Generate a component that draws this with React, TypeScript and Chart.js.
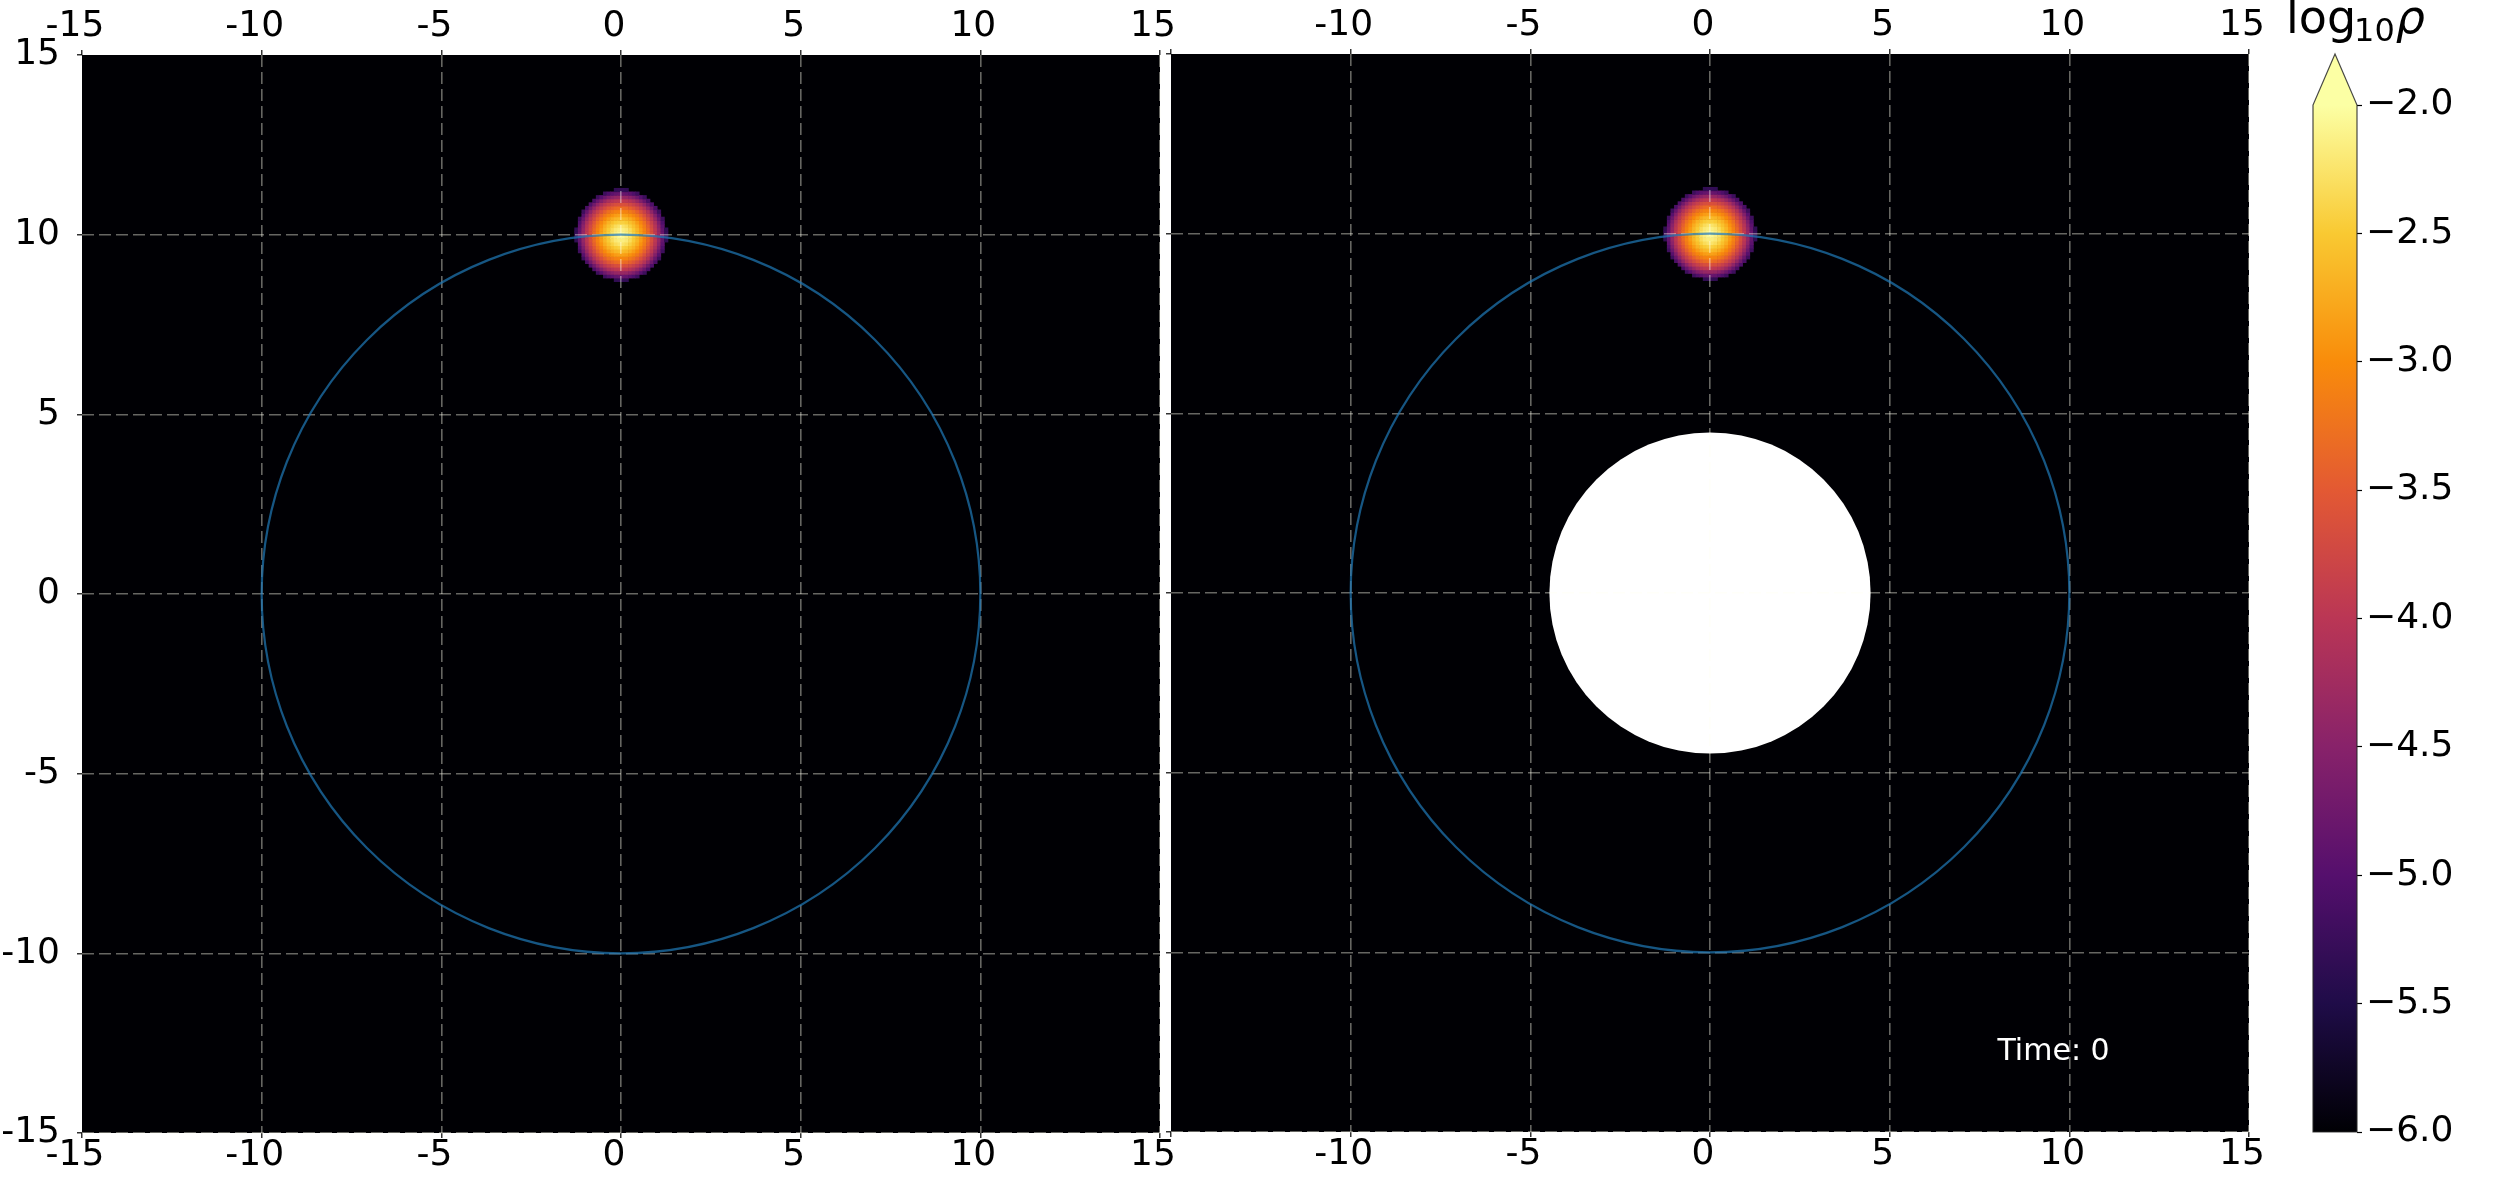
import React, { useEffect, useRef } from "react";
import { Chart, registerables } from "chart.js";

Chart.register(...registerables);

// ---------------- data ----------------
const AXIS_MIN = -15;
const AXIS_MAX = 15;
const TICK_STEP = 5;
const X_TICK_VALUES = [-15, -10, -5, 0, 5, 10, 15];
const LEFT_X_TICK_LABELS = ["-15", "-10", "-5", "0", "5", "10", "15"];
const RIGHT_X_TICK_LABELS = ["", "-10", "-5", "0", "5", "10", "15"];
const Y_TICK_VALUES = [-15, -10, -5, 0, 5, 10, 15];
const Y_TICK_LABELS = ["-15", "-10", "-5", "0", "5", "10", "15"];

const CBAR_MIN = -6;
const CBAR_MAX = -2;
const CBAR_STEP = 0.5;
const CBAR_TICK_VALUES = [-6, -5.5, -5, -4.5, -4, -3.5, -3, -2.5, -2];
const CBAR_TICK_LABELS = ["−6.0", "−5.5", "−5.0", "−4.5", "−4.0", "−3.5", "−3.0", "−2.5", "−2.0"];

// density blob: radial profile of log10(rho) around the centre
const BLOB_CENTER_X = 0;
const BLOB_CENTER_Y = 10;
const BLOB_RADII = [0, 0.25, 0.5, 0.75, 1.0, 1.15, 1.27];
const BLOB_LOG_RHO = [-2.0, -2.25, -2.7, -3.3, -4.1, -4.8, -5.4];
const CELL_SIZE = 0.1;

const ORBIT_RADIUS = 10;
const HOLE_RADIUS = 4.47;
const TIME_TEXT = "Time: 0";
const TIME_X = 8;
const TIME_Y = -13;

// ---------------- styles ----------------
const W = 2500;
const H = 1180;
const FONT = "DejaVu Sans";
const BG = "#000004";
const GRID_COLOR = "rgba(255,255,240,0.4)";
const ORBIT_COLOR = "rgba(31,119,180,0.72)";
const INFERNO = ["#000004", "#1f0c48", "#550f6d", "#88226a", "#ba3655", "#e35933", "#f98c0a", "#f9c932", "#fcffa4"];

const LEFT_AREA = { left: 82, right: 1160, top: 55, bottom: 1133 };
const RIGHT_AREA = { left: 1171, right: 2249, top: 54, bottom: 1132 };
const CBAR_AREA = { left: 2313, right: 2357, top: 105, bottom: 1132 };

function hexToRgb(h: string) {
  return [parseInt(h.slice(1, 3), 16), parseInt(h.slice(3, 5), 16), parseInt(h.slice(5, 7), 16)];
}
const INFERNO_RGB = INFERNO.map(hexToRgb);

function inferno(t: number) {
  const c = Math.max(0, Math.min(1, t)) * (INFERNO_RGB.length - 1);
  const i = Math.min(INFERNO_RGB.length - 2, Math.floor(c));
  const f = c - i;
  const a = INFERNO_RGB[i];
  const b = INFERNO_RGB[i + 1];
  const r = Math.round(a[0] + (b[0] - a[0]) * f);
  const g = Math.round(a[1] + (b[1] - a[1]) * f);
  const bl = Math.round(a[2] + (b[2] - a[2]) * f);
  return `rgb(${r},${g},${bl})`;
}

function profileAt(r: number) {
  for (let i = 0; i < BLOB_RADII.length - 1; i++) {
    if (r <= BLOB_RADII[i + 1]) {
      const f = (r - BLOB_RADII[i]) / (BLOB_RADII[i + 1] - BLOB_RADII[i]);
      return BLOB_LOG_RHO[i] + (BLOB_LOG_RHO[i + 1] - BLOB_LOG_RHO[i]) * f;
    }
  }
  return null;
}

function labelFor(values: number[], labels: string[]) {
  return (v: any) => {
    const idx = values.findIndex((t) => Math.abs(t - Number(v)) < 1e-9);
    return idx >= 0 ? labels[idx] : "";
  };
}

type PanelOpts = {
  id: string;
  area: { left: number; right: number; top: number; bottom: number };
  xLabels: string[];
  showYLabels: boolean;
  yAxisWidth: number;
  hole: boolean;
  time: boolean;
};

function panelPlugin(o: PanelOpts) {
  return {
    id: o.id,
    beforeDraw(chart: any) {
      const { ctx, chartArea: a } = chart;
      ctx.save();
      ctx.fillStyle = BG;
      ctx.fillRect(a.left, a.top, a.right - a.left, a.bottom - a.top);
      ctx.restore();
    },
    beforeDatasetsDraw(chart: any) {
      const { ctx } = chart;
      const xs = chart.scales.x;
      const ys = chart.scales.y;
      const rMax = BLOB_RADII[BLOB_RADII.length - 1];
      const kx0 = Math.floor((BLOB_CENTER_X - rMax) / CELL_SIZE);
      const kx1 = Math.ceil((BLOB_CENTER_X + rMax) / CELL_SIZE);
      const ky0 = Math.floor((BLOB_CENTER_Y - rMax) / CELL_SIZE);
      const ky1 = Math.ceil((BLOB_CENTER_Y + rMax) / CELL_SIZE);
      ctx.save();
      for (let kx = kx0; kx < kx1; kx++) {
        for (let ky = ky0; ky < ky1; ky++) {
          const cx = (kx + 0.5) * CELL_SIZE;
          const cy = (ky + 0.5) * CELL_SIZE;
          const r = Math.hypot(cx - BLOB_CENTER_X, cy - BLOB_CENTER_Y);
          const v = profileAt(r);
          if (v === null) continue;
          const px0 = xs.getPixelForValue(kx * CELL_SIZE);
          const px1 = xs.getPixelForValue((kx + 1) * CELL_SIZE);
          const py0 = ys.getPixelForValue((ky + 1) * CELL_SIZE);
          const py1 = ys.getPixelForValue(ky * CELL_SIZE);
          ctx.fillStyle = inferno((v - CBAR_MIN) / (CBAR_MAX - CBAR_MIN));
          ctx.fillRect(px0, py0, px1 - px0 + 0.6, py1 - py0 + 0.6);
        }
      }
      if (o.hole) {
        const cx = xs.getPixelForValue(0);
        const cy = ys.getPixelForValue(0);
        const rx = xs.getPixelForValue(HOLE_RADIUS) - cx;
        const ry = cy - ys.getPixelForValue(HOLE_RADIUS);
        ctx.fillStyle = "#ffffff";
        ctx.beginPath();
        ctx.ellipse(cx, cy, rx, ry, 0, 0, Math.PI * 2);
        ctx.fill();
      }
      ctx.restore();
    },
    afterDraw(chart: any) {
      const { ctx } = chart;
      const xs = chart.scales.x;
      const ys = chart.scales.y;
      const cx = xs.getPixelForValue(0);
      const cy = ys.getPixelForValue(0);
      const rx = xs.getPixelForValue(ORBIT_RADIUS) - cx;
      const ry = cy - ys.getPixelForValue(ORBIT_RADIUS);
      ctx.save();
      ctx.strokeStyle = ORBIT_COLOR;
      ctx.lineWidth = 2.2;
      ctx.beginPath();
      ctx.ellipse(cx, cy, rx, ry, 0, 0, Math.PI * 2);
      ctx.stroke();
      if (o.time) {
        ctx.fillStyle = "#ffffff";
        ctx.font = `30px "${FONT}"`;
        ctx.textAlign = "left";
        ctx.textBaseline = "alphabetic";
        ctx.fillText(TIME_TEXT, xs.getPixelForValue(TIME_X), ys.getPixelForValue(TIME_Y));
      }
      ctx.restore();
    },
  };
}

function panelConfig(o: PanelOpts): any {
  const a = o.area;
  const tickFont = { family: FONT, size: 36, lineHeight: 1 };
  const baseGrid = {
    z: 1,
    lineWidth: 1.6,
    tickLength: 5,
    tickColor: "#000",
    tickWidth: 1.2,
    tickBorderDash: [],
  };
  return {
    type: "scatter",
    data: { datasets: [] },
    options: {
      responsive: false,
      animation: false,
      events: [],
      layout: { padding: { left: a.left - o.yAxisWidth, top: 0, bottom: 0, right: W - a.right } },
      plugins: { legend: { display: false }, tooltip: { enabled: false }, title: { display: false } },
      scales: {
        x: {
          type: "linear",
          position: "bottom",
          min: AXIS_MIN,
          max: AXIS_MAX,
          afterFit: (s: any) => { s.height = H - a.bottom; },
          afterBuildTicks: (s: any) => { s.ticks = X_TICK_VALUES.map((v) => ({ value: v })); },
          ticks: {
            stepSize: TICK_STEP,
            autoSkip: false,
            maxRotation: 0,
            minRotation: 0,
            padding: 0,
            labelOffset: -7,
            color: "#000",
            font: tickFont,
            callback: labelFor(X_TICK_VALUES, o.xLabels),
          },
          grid: {
            ...baseGrid,
            color: (c: any) => (c.tick && c.tick.value === AXIS_MIN ? "rgba(0,0,0,0)" : GRID_COLOR),
          },
          border: { display: false, dash: [12, 5] },
        },
        x2: {
          type: "linear",
          position: "top",
          min: AXIS_MIN,
          max: AXIS_MAX,
          afterFit: (s: any) => { s.height = a.top; },
          afterBuildTicks: (s: any) => { s.ticks = X_TICK_VALUES.map((v) => ({ value: v })); },
          ticks: {
            stepSize: TICK_STEP,
            autoSkip: false,
            maxRotation: 0,
            minRotation: 0,
            padding: 5,
            labelOffset: -7,
            color: "#000",
            font: tickFont,
            callback: labelFor(X_TICK_VALUES, o.xLabels),
          },
          grid: { ...baseGrid, drawOnChartArea: false, color: GRID_COLOR },
          border: { display: false },
        },
        y: {
          type: "linear",
          position: "left",
          min: AXIS_MIN,
          max: AXIS_MAX,
          afterFit: (s: any) => { s.width = o.yAxisWidth; },
          afterBuildTicks: (s: any) => { s.ticks = Y_TICK_VALUES.map((v) => ({ value: v })); },
          ticks: {
            display: o.showYLabels,
            stepSize: TICK_STEP,
            autoSkip: false,
            padding: 17,
            color: "#000",
            font: tickFont,
            callback: labelFor(Y_TICK_VALUES, Y_TICK_LABELS),
          },
          grid: {
            ...baseGrid,
            color: (c: any) => (c.tick && c.tick.value === AXIS_MAX ? "rgba(0,0,0,0)" : GRID_COLOR),
          },
          border: { display: false, dash: [12, 5] },
        },
      },
    },
    plugins: [panelPlugin(o)],
  };
}

function colorbarConfig(): any {
  const a = CBAR_AREA;
  return {
    type: "scatter",
    data: { datasets: [] },
    options: {
      responsive: false,
      animation: false,
      events: [],
      layout: { padding: { left: a.left, top: a.top, bottom: H - a.bottom, right: 0 } },
      plugins: { legend: { display: false }, tooltip: { enabled: false }, title: { display: false } },
      scales: {
        x: { type: "linear", display: false, min: 0, max: 1 },
        y: {
          type: "linear",
          position: "right",
          min: CBAR_MIN,
          max: CBAR_MAX,
          afterFit: (s: any) => { s.width = W - a.right; },
          afterBuildTicks: (s: any) => { s.ticks = CBAR_TICK_VALUES.map((v) => ({ value: v })); },
          ticks: {
            stepSize: CBAR_STEP,
            autoSkip: false,
            padding: 4,
            color: "#000",
            font: { family: FONT, size: 36, lineHeight: 1 },
            callback: labelFor(CBAR_TICK_VALUES, CBAR_TICK_LABELS),
          },
          grid: { drawOnChartArea: false, tickLength: 5, tickColor: "#000", tickWidth: 1.2 },
          border: { display: false },
        },
      },
    },
    plugins: [
      {
        id: "cbar",
        afterDraw(chart: any) {
          const { ctx, chartArea: ca } = chart;
          const ys = chart.scales.y;
          const top = ys.getPixelForValue(CBAR_MAX);
          const bottom = ys.getPixelForValue(CBAR_MIN);
          const left = ca.left;
          const right = ca.right;
          const mid = (left + right) / 2;
          const apex = top - 51;
          ctx.save();
          const grad = ctx.createLinearGradient(0, bottom, 0, top);
          INFERNO.forEach((c, i) => grad.addColorStop(i / (INFERNO.length - 1), c));
          ctx.fillStyle = grad;
          ctx.fillRect(left, top, right - left, bottom - top);
          ctx.fillStyle = INFERNO[INFERNO.length - 1];
          ctx.beginPath();
          ctx.moveTo(left, top + 0.5);
          ctx.lineTo(mid, apex);
          ctx.lineTo(right, top + 0.5);
          ctx.closePath();
          ctx.fill();
          ctx.strokeStyle = "rgba(40,40,40,0.85)";
          ctx.lineWidth = 1.2;
          ctx.beginPath();
          ctx.moveTo(left, bottom);
          ctx.lineTo(left, top);
          ctx.lineTo(mid, apex);
          ctx.lineTo(right, top);
          ctx.lineTo(right, bottom);
          ctx.closePath();
          ctx.stroke();

          // title: log10 rho
          ctx.fillStyle = "#000";
          ctx.textBaseline = "alphabetic";
          ctx.textAlign = "left";
          let x = 2286;
          ctx.font = `46px "${FONT}"`;
          ctx.fillText("log", x, 33);
          x += ctx.measureText("log").width - 2;
          ctx.font = `32px "${FONT}"`;
          ctx.fillText("10", x, 41);
          x += ctx.measureText("10").width + 1;
          ctx.font = `italic 46px "${FONT}"`;
          ctx.fillText("ρ", x, 33);
          ctx.restore();
        },
      },
    ],
  };
}

export default function App() {
  const leftRef = useRef<HTMLCanvasElement>(null);
  const rightRef = useRef<HTMLCanvasElement>(null);
  const cbarRef = useRef<HTMLCanvasElement>(null);

  useEffect(() => {
    document.documentElement.style.overflow = "hidden";
    document.body.style.margin = "0";
    const charts = [
      new Chart(leftRef.current as HTMLCanvasElement, panelConfig({
        id: "leftPanel",
        area: LEFT_AREA,
        xLabels: LEFT_X_TICK_LABELS,
        showYLabels: true,
        yAxisWidth: 82,
        hole: false,
        time: false,
      })),
      new Chart(rightRef.current as HTMLCanvasElement, panelConfig({
        id: "rightPanel",
        area: RIGHT_AREA,
        xLabels: RIGHT_X_TICK_LABELS,
        showYLabels: false,
        yAxisWidth: 40,
        hole: true,
        time: true,
      })),
      new Chart(cbarRef.current as HTMLCanvasElement, colorbarConfig()),
    ];
    return () => charts.forEach((c) => c.destroy());
  }, []);

  const cs: React.CSSProperties = { position: "absolute", left: 0, top: 0, width: W, height: H };
  return (
    <div style={{ position: "absolute", left: 0, top: 0, width: W, height: H, background: "#fff", overflow: "hidden" }}>
      <canvas ref={leftRef} width={W} height={H} style={cs} />
      <canvas ref={rightRef} width={W} height={H} style={cs} />
      <canvas ref={cbarRef} width={W} height={H} style={cs} />
    </div>
  );
}
